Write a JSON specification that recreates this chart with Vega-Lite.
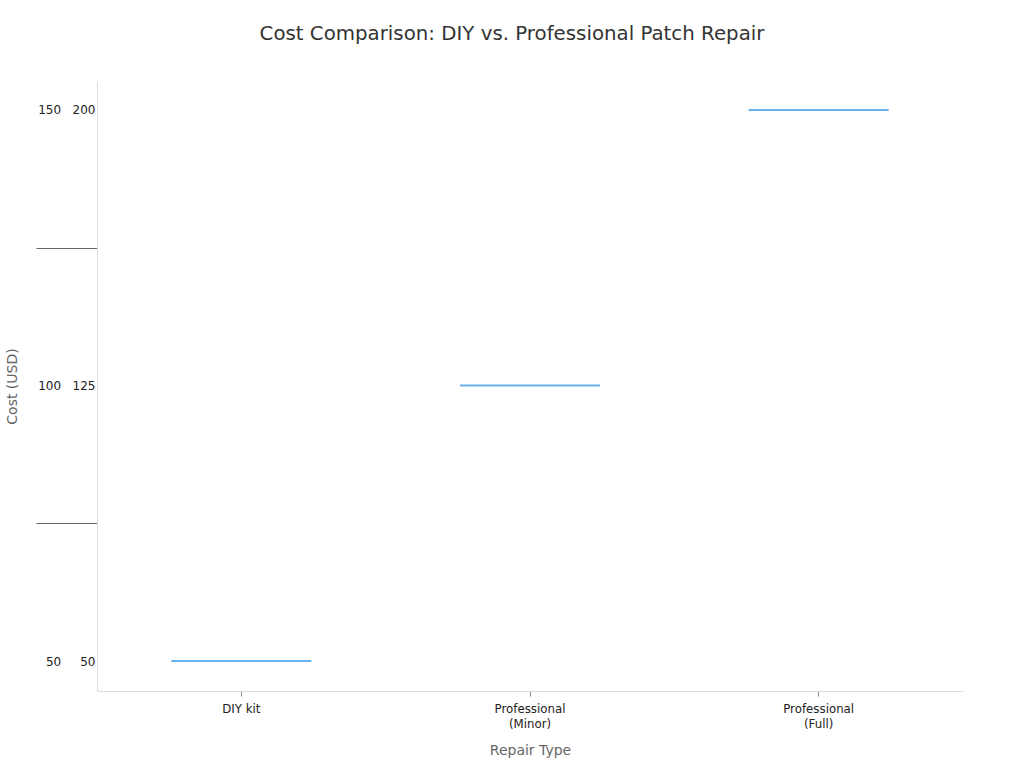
{
  "$schema": "https://vega.github.io/schema/vega-lite/v6.json",
  "width": 866,
  "height": 610,
  "autosize": {"type": "none"},
  "padding": {"left": 97, "top": 81, "right": 61, "bottom": 77},
  "background": "white",
  "config": {
    "font": "DejaVu Sans",
    "view": {"stroke": null}
  },
  "title": {
    "text": "Cost Comparison: DIY vs. Professional Patch Repair",
    "fontSize": 19.8,
    "fontWeight": "normal",
    "color": "#333333",
    "anchor": "middle",
    "dx": -18,
    "offset": 37
  },
  "data": {
    "values": [
      {"repair": "DIY kit", "low": 50, "high": 50},
      {"repair": "Professional (Minor)", "low": 100, "high": 125},
      {"repair": "Professional (Full)", "low": 150, "high": 200}
    ]
  },
  "mark": {"type": "tick", "size": 140, "thickness": 2, "color": "#2a8fe8"},
  "encoding": {
    "x": {
      "field": "repair",
      "type": "nominal",
      "sort": null,
      "scale": {"paddingInner": 0, "paddingOuter": 0},
      "axis": {
        "title": "Repair Type",
        "labelAngle": 0,
        "labelFontSize": 11.8,
        "labelColor": "#222222",
        "labelLineHeight": 15,
        "labelPadding": 7,
        "labelExpr": "split(replace(datum.label, ' (', '~('), '~')",
        "tickSize": 5,
        "tickColor": "#888888",
        "domainColor": "#dddddd",
        "titleFontSize": 14,
        "titleFontWeight": "normal",
        "titleColor": "#666666",
        "titlePadding": 14
      }
    },
    "y": {
      "field": "high",
      "type": "quantitative",
      "scale": {"domain": [41.85, 207.88], "nice": false, "zero": false},
      "axis": {
        "title": "Cost (USD)",
        "values": [50, 87.5, 125, 162.5, 200],
        "grid": false,
        "tickSize": 61,
        "tickColor": "#666666",
        "tickOpacity": {"condition": {"test": "datum.value == 87.5 || datum.value == 162.5", "value": 1}, "value": 0},
        "labelPadding": -59,
        "labelFontSize": 12,
        "labelColor": "#222222",
        "labelExpr": "datum.value == 50 ? '50\u00a0\u00a0\u00a0\u00a0\u00a050' : datum.value == 125 ? '100\u00a0\u00a0\u00a0125' : datum.value == 200 ? '150\u00a0\u00a0\u00a0200' : ''",
        "domainColor": "#dddddd",
        "titleFontSize": 14,
        "titleFontWeight": "normal",
        "titleColor": "#666666",
        "titleX": -85,
        "titleY": 305,
        "titleAngle": -90,
        "titleAlign": "center",
        "titleBaseline": "middle"
      }
    }
  }
}
